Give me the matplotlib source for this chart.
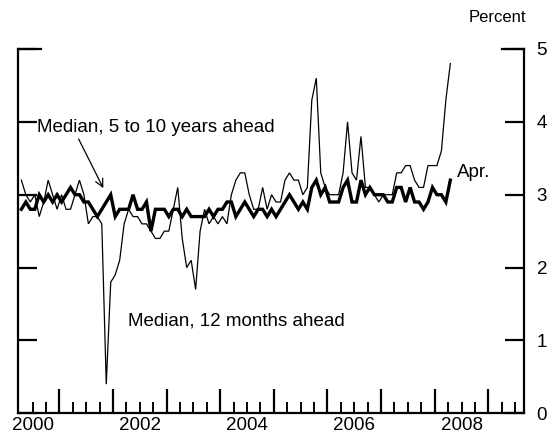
import matplotlib
matplotlib.use('Agg')
import matplotlib.pyplot as plt
import numpy as np

plt.rcParams['font.family'] = ['Liberation Sans', 'DejaVu Sans']

# monthly, Apr 2000 .. Apr 2008
start_year, start_month = 2000, 4

# median expected inflation, 12 months ahead (thin)
short_term = [
    3.2, 3.0, 2.9, 3.0, 2.7, 2.9, 3.2, 3.0, 2.8, 3.0,
    2.8, 2.8, 3.0, 3.2, 3.0, 2.6, 2.7, 2.7, 2.6, 0.4,
    1.8, 1.9, 2.1, 2.6, 2.8, 2.7, 2.7, 2.6, 2.6, 2.5,
    2.4, 2.4, 2.5, 2.5, 2.8, 3.1, 2.4, 2.0, 2.1, 1.7,
    2.5, 2.8, 2.6, 2.7, 2.6, 2.7, 2.6, 3.0, 3.2, 3.3,
    3.3, 3.0, 2.8, 2.8, 3.1, 2.8, 3.0, 2.9, 2.9, 3.2,
    3.3, 3.2, 3.2, 3.0, 3.1, 4.3, 4.6, 3.3, 3.1, 3.0,
    3.0, 3.0, 3.3, 4.0, 3.3, 3.2, 3.8, 3.1, 3.1, 3.0,
    2.9, 3.0, 3.0, 3.0, 3.3, 3.3, 3.4, 3.4, 3.2, 3.1,
    3.1, 3.4, 3.4, 3.4, 3.6, 4.3, 4.8,
]

# median expected inflation, 5 to 10 years ahead (thick)
long_term = [
    2.8, 2.9, 2.8, 2.8, 3.0, 2.9, 3.0, 2.9, 3.0, 2.9,
    3.0, 3.1, 3.0, 3.0, 2.9, 2.9, 2.8, 2.7, 2.8, 2.9,
    3.0, 2.7, 2.8, 2.8, 2.8, 3.0, 2.8, 2.8, 2.9, 2.5,
    2.8, 2.8, 2.8, 2.7, 2.8, 2.8, 2.7, 2.8, 2.7, 2.7,
    2.7, 2.7, 2.8, 2.7, 2.8, 2.8, 2.9, 2.9, 2.7, 2.8,
    2.9, 2.8, 2.7, 2.8, 2.8, 2.7, 2.8, 2.7, 2.8, 2.9,
    3.0, 2.9, 2.8, 2.9, 2.8, 3.1, 3.2, 3.0, 3.1, 2.9,
    2.9, 2.9, 3.1, 3.2, 2.9, 2.9, 3.2, 3.0, 3.1, 3.0,
    3.0, 3.0, 2.9, 2.9, 3.1, 3.1, 2.9, 3.1, 2.9, 2.9,
    2.8, 2.9, 3.1, 3.0, 3.0, 2.9, 3.2,
]

year_labels = ['2000', '2002', '2004', '2006', '2008']
y_ticks = [0, 1, 2, 3, 4, 5]

# x position of each month: middle of the month, in years
n = len(short_term)
months = np.arange(n) + (start_month - 1)
x = start_year + (months + 0.5) / 12.0

fig = plt.figure(figsize=(5.47, 4.34), dpi=100)
ax = fig.add_axes([0.0335, 0.0477, 0.9245, 0.8394])

ax.plot(x, short_term, color='black', linewidth=0.9, solid_joinstyle='miter')
ax.plot(x, long_term, color='black', linewidth=2.4, solid_joinstyle='miter')

ax.set_xlim(2000.235, 2009.666)
ax.set_ylim(0, 5)

ax.spines['top'].set_visible(False)
for s in ['left', 'right', 'bottom']:
    ax.spines[s].set_linewidth(1.6)

# x axis: long ticks at year boundaries, short ticks at quarters
ax.set_xticks(np.arange(2001, 2010))
ax.set_xticks(np.arange(2000.5, 2009.6, 0.25), minor=True)
ax.tick_params(axis='x', which='major', direction='in', length=17, width=1.6,
               labelbottom=False)
ax.tick_params(axis='x', which='minor', direction='in', length=8, width=1.4)
for lab in year_labels:
    ax.text(int(lab) + 0.5, -0.047, lab, transform=ax.get_xaxis_transform(),
            ha='center', va='baseline', fontsize=13.5)

# y axis: ticks on both sides, labels on right only
ax.set_yticks(y_ticks)
ax.tick_params(axis='y', which='major', direction='in', length=14, width=1.6,
               left=True, right=True, labelleft=False, labelright=True,
               labelsize=13.5, pad=9)
# the top ticks are drawn a bit longer
ax.axhline(5, xmin=0, xmax=0.044, color='black', linewidth=1.6, clip_on=False)
ax.axhline(5, xmin=0.956, xmax=1, color='black', linewidth=1.6, clip_on=False)

fig.text(526 / 547, 1 - 18 / 434, 'Percent', ha='right', va='center', fontsize=12)

ax.annotate('Median, 5 to 10 years ahead', xy=(2001.82, 3.09),
            xytext=(2000.58, 3.92), ha='left', va='center', fontsize=13.5,
            arrowprops=dict(arrowstyle='->', color='black', linewidth=0.9,
                            shrinkA=0, shrinkB=0, relpos=(0.17, 0.0),
                            mutation_scale=14))
ax.text(2002.28, 1.27, 'Median, 12 months ahead', ha='left', va='center',
        fontsize=13.5)
ax.text(2008.41, 3.3, 'Apr.', ha='left', va='center', fontsize=13.5)

fig.savefig('out.png', dpi=100)
